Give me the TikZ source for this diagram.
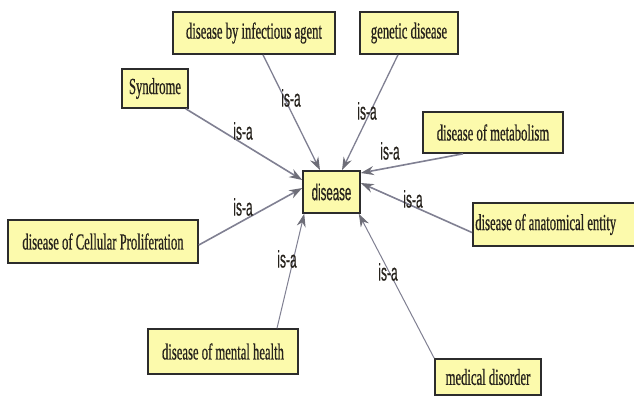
\documentclass[tikz,border=0pt]{standalone}
\usepackage{fontspec}
\setmainfont{Liberation Serif}
\newfontfamily\boxfont[FakeStretch=0.55,FakeBold=0.6]{Liberation Serif}
\newfontfamily\tagfont[FakeStretch=0.5,FakeBold=0.4]{Liberation Sans}
\usetikzlibrary{arrows.meta}

\definecolor{boxfill}{RGB}{252,250,172}
\definecolor{boxline}{RGB}{44,44,44}
\definecolor{textcol}{RGB}{38,34,28}
\definecolor{edgecol}{RGB}{128,128,146}
\definecolor{tipcol}{RGB}{110,110,120}

\tikzset{
  concept/.style={draw=boxline, fill=boxfill, line width=1.6pt, inner sep=0pt,
    text=textcol, font=\boxfont\fontsize{23}{26}\selectfont},
  centre/.style={concept, font=\tagfont\fontsize{23}{26}\selectfont},
  isa/.style={draw=edgecol, line width=1.3pt,
    -{Stealth[length=13pt,width=9pt,color=tipcol]}},
  tag/.style={text=textcol, font=\tagfont\fontsize{24}{26}\selectfont, inner sep=0pt}
}

\begin{document}
\begin{tikzpicture}[x=1pt, y=-1pt]
  \useasboundingbox (0,0) rectangle (634,402);
  \fill[white] (0,0) rectangle (634,402);

  % concepts
  \node[centre, minimum width=57pt, minimum height=42pt] (dis) at (331.5,192) {disease};
  \node[concept, minimum width=162pt, minimum height=42pt] (infect) at (254,33) {disease by infectious agent};
  \node[concept, minimum width=98pt, minimum height=42pt] (genetic) at (409,33) {genetic disease};
  \node[concept, minimum width=66pt, minimum height=39pt] (synd) at (155,88.5) {Syndrome};
  \node[concept, minimum width=190pt, minimum height=43pt] (cell) at (103,241.5) {disease of Cellular Proliferation};
  \node[concept, minimum width=140pt, minimum height=41pt] (metab) at (493,132.5) {disease of metabolism};
  \node[concept, anchor=west, minimum width=175pt, minimum height=43pt, inner xsep=1pt]
        (anat) at (472,224.5)
        {\makebox[170pt][l]{\raisebox{-4pt}{disease of anatomical entity}}};
  \node[concept, minimum width=150pt, minimum height=45pt] (mental) at (223,351.5) {disease of mental health};
  \node[concept, minimum width=106pt, minimum height=36pt] (medical) at (488,377) {medical disorder};

  % is-a links
  \draw[isa] ([xshift=9pt]infect.south) -- ([xshift=-11.5pt]dis.north);
  \draw[isa] ([xshift=-11pt]genetic.south) -- ([xshift=10.5pt]dis.north);
  \draw[isa, line width=1.6pt] ([xshift=-3pt]synd.south east) -- ([yshift=12pt]dis.west);
  \draw[isa, line width=1.6pt] ([yshift=-3.5pt]cell.east) -- ([yshift=4pt]dis.west);
  \draw[isa, line width=1.6pt] ([xshift=-30pt]metab.south) -- ([yshift=19pt]dis.east);
  \draw[isa, line width=1.6pt] ([yshift=-8pt]anat.west) -- ([yshift=9pt]dis.east);
  \draw[isa, line width=1pt] ([xshift=54pt]mental.north) -- ([xshift=2pt]dis.south west);
  \draw[isa, line width=1pt] (medical.north west) -- ([xshift=-2pt]dis.south east);

  % link labels
  \node[tag] (tinfect) at (291,98) {is-a};
  \node[tag] (tgenetic) at (367,111) {is-a};
  \node[tag] (tsynd) at (243,131) {is-a};
  \node[tag] (tcell) at (243,207) {is-a};
  \node[tag] (tmetab) at (390,151) {is-a};
  \node[tag] (tanat) at (413,199) {is-a};
  \node[tag] (tmental) at (287,259) {is-a};
  \node[tag] (tmedical) at (388,272) {is-a};
\end{tikzpicture}
\end{document}
